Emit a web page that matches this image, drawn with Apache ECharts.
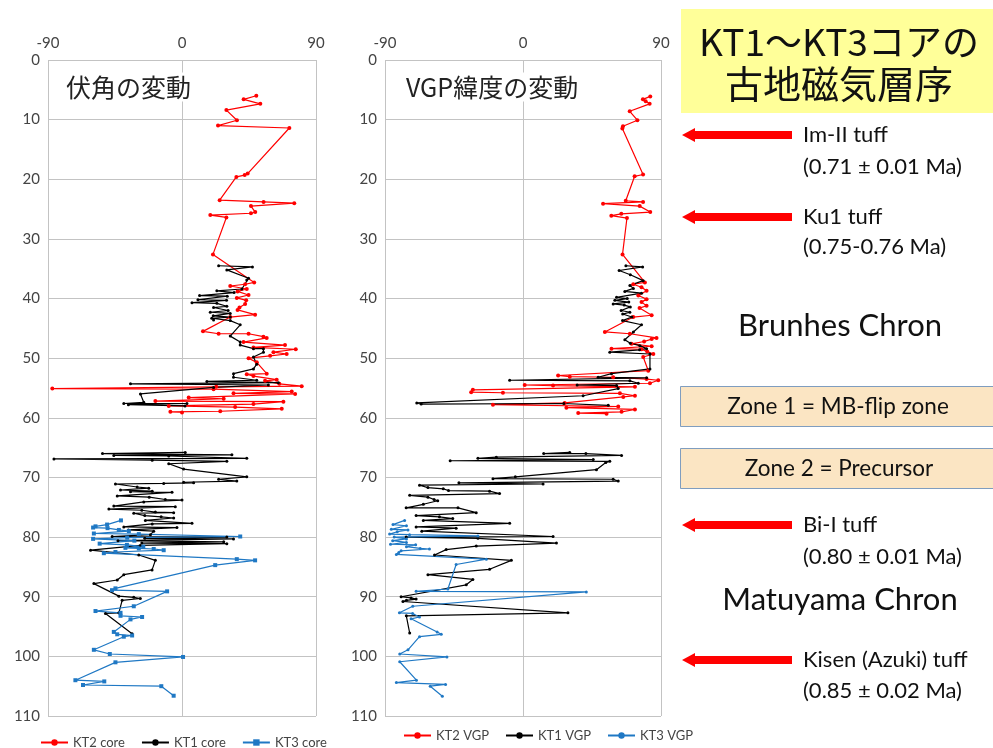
<!DOCTYPE html>
<html>
<head>
<meta charset="utf-8">
<script src="https://cdn.jsdelivr.net/npm/echarts@6/dist/echarts.min.js"></script>
<style>
html,body{margin:0;padding:0;background:#fff;}
#chart{width:993px;height:748px;}
</style>
</head>
<body>
<div id="chart"></div>
<script>
// ---- data: [value (deg), depth (m)] ----
const xTicks = [-90, 0, 90];
const depthTicks = [0, 10, 20, 30, 40, 50, 60, 70, 80, 90, 100, 110];

const kt2Core = [[49.9,6.0],[41.4,6.6],[52.6,7.35],[29.8,8.4],[36.9,10.1],[24.2,11.0],[72.1,11.4],[44.1,19.05],[42.1,19.3],[36.5,19.6],[25.3,23.5],[54.8,23.8],[75.4,24.0],[46.3,24.5],[49.2,25.5],[46.3,25.7],[19.0,26.0],[29.8,26.4],[20.8,32.6],
[48.5,37.3],[42.4,37.6],[32.4,37.9],[43.5,38.4],[37.3,38.8],[44.7,39.4],[36.8,39.9],[43.1,40.3],[42.4,40.9],[38.6,41.5],[37.3,41.9],[49.1,42.7],[32.4,43.1],[14.1,45.5],[24.6,45.9],[44.7,45.9],[54.7,46.4],[56.9,46.6],[41.3,47.3],[69.2,47.8],[48.0,48.2],[76.4,48.5],[61.4,49.0],[70.3,49.3],[59.2,49.6],[44.7,50.0],[50.2,50.7],[56.9,52.6],[43.5,52.7],[48.0,53.0],[63.6,53.6],[55.8,53.8],[65.4,54.3],[80.4,54.7],[23.0,54.8],[-87.1,55.1],[21.2,55.2],[73.7,55.6],[34.6,55.9],[76.0,56.0],[4.5,56.6],[28.0,56.8],[-17.9,57.2],[68.1,57.3],[48.0,57.7],[-8.9,58.0],[35.7,58.2],[67.0,58.5],[25.7,58.9],[-7.8,59.0],[0.0,59.1]];

const kt1CoreUpper = [[24.6,34.5],[47.3,34.7],[30.1,35.2],[44.7,36.6],[43.5,36.9],[40.2,38.4],[23.4,38.7],[35.0,39.0],[11.8,39.5],[30.4,39.6],[10.7,40.2],[29.9,40.3],[6.7,40.7],[23.4,40.8],[30.1,41.3],[21.2,41.5],[31.0,42.0],[19.0,42.3],[32.4,42.5],[21.0,42.9],[32.4,43.1],[20.0,43.3],[21.2,43.6],[32.4,43.7],[39.1,44.4],[32.4,46.3],[39.1,47.3],[39.1,47.8],[48.0,48.4],[54.7,48.4],[54.7,49.0],[48.0,49.8],[50.2,51.0],[48.0,51.8],[34.6,52.6],[34.6,53.2],[50.2,53.7],[16.7,53.9],[64.7,54.1],[-34.6,54.3],[58.0,54.5],[21.2,54.9],[-27.9,56.0],[-25.7,57.4],[-39.1,57.6],[3.3,57.6],[-36.0,57.8],[2.0,58.0]];
const kt1CoreLower = [[2.2,65.8],[-53.4,66.0],[33.5,66.2],[-45.8,66.3],[-8.9,66.4],[43.5,66.8],[-86.0,66.9],[-20.0,67.1],[30.1,67.3],[-8.9,67.7],[1.1,68.6],[43.5,69.9],[24.6,70.3],[36.8,70.6],[1.1,70.8],[7.8,70.9],[-12.3,71.0],[-44.7,71.1],[-30.1,71.6],[-22.3,71.8],[-41.3,72.1],[-20.0,72.3],[-34.6,72.4],[-6.7,72.5],[-43.5,73.1],[-22.0,73.3],[-11.2,73.7],[0.0,73.8],[-25.7,74.1],[-45.8,74.8],[-4.5,74.9],[-49.1,75.3],[-27.0,75.5],[-17.9,75.8],[-5.6,75.9],[-32.4,76.0],[-25.0,76.4],[-14.0,76.6],[-5.6,76.8],[-24.6,77.2],[6.7,77.7],[-20.0,77.8],[-39.1,78.3],[-3.4,78.4],[-36.0,78.8],[-19.0,79.0],[-21.2,79.6],[-46.9,79.9],[30.1,80.0],[-25.0,80.2],[34.6,80.3],[-43.0,80.6],[28.0,80.8],[-27.0,81.0],[30.1,81.1],[-28.0,81.4],[-61.4,82.2],[-29.0,83.0],[-17.9,83.9],[-20.1,85.5],[-39.1,86.3],[-43.5,87.2],[-59.2,87.8],[-42.4,89.9],[-32.4,90.1],[-28.0,90.3],[-40.2,90.6],[-42.4,92.7],[-51.4,92.8],[-33.5,96.2]];

const kt3Core = [[-41.0,77.2],[-50.3,77.9],[-58.1,78.2],[-59.7,78.4],[-50.0,78.5],[-42.4,78.8],[-35.7,79.0],[-59.2,79.4],[-29.0,79.5],[39.1,79.9],[-36.8,80.1],[-59.7,80.3],[-32.0,80.6],[-55.3,81.1],[-37.0,81.3],[-26.0,81.6],[-38.0,81.8],[-29.0,81.9],[-19.0,82.0],[-12.3,82.2],[-44.7,82.5],[-52.5,82.7],[36.8,83.7],[49.1,83.9],[22.3,84.7],[-44.7,88.6],[-47.0,88.9],[-10.0,89.1],[-32.4,91.6],[-58.1,92.4],[-41.3,92.7],[-41.3,93.2],[-26.8,93.4],[-34.6,93.8],[-45.8,95.9],[-43.5,96.3],[-33.5,96.5],[-39.1,96.7],[-59.2,98.9],[-48.5,99.6],[0.7,100.1],[-44.7,101.0],[-71.6,104.0],[-52.2,104.2],[-66.5,104.8],[-13.9,105.0],[-5.6,106.6]];

const kt2Vgp = [[83.0,6.1],[78.2,6.6],[80.0,6.9],[82.6,7.35],[69.6,8.6],[74.6,10.1],[65.2,11.1],[64.8,11.5],[78.3,19.2],[72.8,19.5],[67.0,23.6],[78.3,23.8],[52.2,24.1],[76.1,24.5],[83.0,25.5],[64.1,25.8],[57.6,26.1],[67.8,26.5],[64.9,32.6],
[79.5,37.3],[71.9,37.6],[77.3,38.1],[80.6,38.7],[75.2,39.5],[80.6,40.1],[77.3,40.6],[80.6,41.2],[76.0,41.6],[83.9,42.8],[71.9,43.1],[53.4,45.6],[69.7,45.9],[87.1,46.6],[83.9,46.8],[79.0,47.2],[70.8,47.6],[83.9,48.0],[57.7,48.4],[77.3,48.5],[81.0,48.9],[85.0,49.3],[78.4,49.8],[81.7,52.1],[22.9,52.9],[30.5,53.1],[58.8,53.2],[80.6,53.5],[88.2,53.7],[82.8,54.2],[1.1,54.5],[19.6,54.6],[73.0,54.8],[-32.7,55.3],[-33.8,55.7],[-13.1,55.8],[63.2,55.9],[73.0,56.3],[65.4,56.5],[27.2,57.5],[-19.6,57.8],[62.1,58.1],[28.3,58.3],[73.0,58.6],[64.3,59.0],[36.0,59.2],[54.5,59.3]];

const kt1VgpUpper = [[67.1,34.5],[78.0,34.7],[62.7,35.3],[70.0,36.0],[78.4,37.0],[69.7,37.8],[72.0,38.3],[66.4,38.8],[77.3,39.1],[61.0,39.8],[68.0,40.0],[59.9,40.3],[69.0,40.6],[58.8,40.9],[66.0,41.1],[70.0,41.4],[64.0,42.0],[69.7,42.3],[65.0,42.6],[71.0,43.1],[64.9,43.7],[77.3,44.4],[72.0,45.6],[66.4,46.9],[70.0,47.5],[76.2,47.9],[80.6,48.4],[76.0,48.6],[56.6,49.0],[82.8,49.3],[82.8,51.8],[57.7,52.6],[49.0,53.2],[80.6,53.3],[-8.7,53.7],[69.7,53.8],[75.2,54.2],[35.3,54.5],[61.0,54.6],[62.1,55.1],[39.2,56.3],[-69.3,57.5],[-66.4,57.7],[26.6,57.6],[55.6,57.9]];
const kt1VgpLower = [[30.5,65.8],[13.5,66.0],[41.0,66.0],[64.3,66.3],[-17.4,66.6],[-29.4,66.8],[45.8,67.0],[-47.5,67.2],[56.6,67.3],[54.0,67.5],[47.9,68.7],[-5.0,69.9],[-19.6,70.2],[58.8,70.3],[62.1,70.6],[-41.8,70.9],[13.1,71.1],[-67.5,71.3],[-62.0,71.7],[-52.0,71.9],[-48.6,72.2],[-21.8,72.3],[-15.3,72.7],[-73.9,73.0],[-62.0,73.3],[-58.0,73.7],[-55.6,73.9],[-65.0,74.5],[-76.2,75.1],[-42.4,75.1],[-30.5,75.9],[-69.7,76.4],[-54.5,76.6],[-45.8,76.9],[-65.0,77.2],[-8.7,77.7],[-69.7,78.3],[-43.6,78.5],[-66.0,79.0],[19.6,79.9],[-76.2,80.0],[-29.4,80.2],[21.8,81.0],[-30.5,81.5],[-50.1,82.1],[-57.7,83.0],[-7.6,83.9],[-21.8,85.4],[-62.0,86.3],[-32.7,87.1],[-37.0,88.0],[-79.5,90.0],[-73.0,90.2],[-69.7,90.4],[-76.0,90.6],[-78.3,90.8],[29.3,92.7],[-76.1,93.2],[-73.9,96.1]];

const kt3Vgp = [[-77.2,77.2],[-84.8,77.9],[-76.0,78.1],[-85.9,78.7],[-75.0,78.8],[-82.0,79.1],[-87.0,79.5],[-74.0,79.6],[-29.4,79.8],[-84.0,80.0],[-76.0,80.3],[-85.0,80.6],[-76.0,80.9],[-86.4,81.2],[-70.0,81.3],[-76.0,81.6],[-67.0,81.9],[-61.0,82.0],[-79.5,82.3],[-81.0,82.6],[-82.6,82.9],[-23.9,83.7],[-43.6,84.6],[-49.0,88.7],[-69.7,89.1],[41.3,89.2],[-71.9,91.6],[-80.6,92.7],[-72.0,92.8],[-67.5,93.4],[-73.0,93.7],[-56.0,95.9],[-53.3,96.3],[-67.5,96.7],[-75.0,98.9],[-80.4,99.6],[-49.6,100.1],[-80.4,100.9],[-69.5,104.0],[-82.6,104.4],[-50.5,104.7],[-60.5,105.0],[-52.6,106.7]];

const leftNames = ['KT2 core', 'KT1 core', 'KT3 core'];
const rightNames = ['KT2 VGP', 'KT1 VGP', 'KT3 VGP'];
const panelTitles = ['伏角の変動', 'VGP緯度の変動'];

// ---- styling ----
const RED = '#ff0000', BLACK = '#000000', BLUE = '#1f78c4';
const GRID = '#c3c3c3', LABEL = '#444444';
const LAT = 'Lato, "Noto Sans", "Noto Sans CJK JP", sans-serif';
const JP = '"Noto Sans CJK JP", sans-serif';

function xAx(gi) {
  return {
    type: 'value', gridIndex: gi, position: 'top',
    min: xTicks[0], max: xTicks[xTicks.length - 1], interval: 90,
    axisLine: {show: false}, axisTick: {show: false},
    axisLabel: {color: LABEL, fontSize: 15, fontFamily: LAT, margin: 9},
    splitLine: {show: true, lineStyle: {color: GRID, width: 1}}
  };
}
function yAx(gi) {
  return {
    type: 'value', gridIndex: gi, inverse: true,
    min: depthTicks[0], max: depthTicks[depthTicks.length - 1], interval: 10,
    axisLine: {show: false},
    axisTick: {show: true, length: 5, lineStyle: {color: GRID}},
    axisLabel: {color: LABEL, fontSize: 15, fontFamily: LAT, margin: 8},
    splitLine: {show: true, lineStyle: {color: GRID, width: 1}}
  };
}
function ser(name, data, gi, color, symbol, size) {
  return {
    name, type: 'line', xAxisIndex: gi, yAxisIndex: gi, data,
    color, symbol, symbolSize: size, showSymbol: true, connectNulls: false,
    lineStyle: {color, width: 1.2}, itemStyle: {color},
    z: 3, silent: true, animation: false
  };
}

const arrowYs = [135, 217, 525, 660];
const arrowGraphics = arrowYs.map(y => ({
  type: 'polygon',
  shape: {points: [[682, y], [695, y - 7], [695, y - 4], [792, y - 4], [792, y + 4], [695, y + 4], [695, y + 7]]},
  style: {fill: '#ff0000'}
}));
function txt(x, y, text, size, align, family) {
  return {type: 'text', x, y, style: {text, fontSize: size, fontFamily: family || LAT, fill: '#111', align: align || 'left', verticalAlign: 'middle'}};
}

const option = {
  animation: false,
  backgroundColor: '#fff',
  grid: [
    {left: 48, top: 60, width: 268, height: 656},
    {left: 385, top: 60, width: 276, height: 656}
  ],
  xAxis: [xAx(0), xAx(1)],
  yAxis: [yAx(0), yAx(1)],
  legend: [
    {data: leftNames, left: 35, top: 731, itemWidth: 27, itemHeight: 8, itemGap: 16,
     textStyle: {color: LABEL, fontSize: 13, fontFamily: LAT}},
    {data: rightNames, left: 398, top: 724, itemWidth: 27, itemHeight: 8, itemGap: 16,
     textStyle: {color: LABEL, fontSize: 13, fontFamily: LAT}}
  ],
  series: [
    ser(leftNames[0], kt2Core, 0, RED, 'circle', 4),
    ser(leftNames[1], kt1CoreUpper.concat([null], kt1CoreLower), 0, BLACK, 'circle', 3),
    ser(leftNames[2], kt3Core, 0, BLUE, 'rect', 4),
    ser(rightNames[0], kt2Vgp, 1, RED, 'circle', 4),
    ser(rightNames[1], kt1VgpUpper.concat([null], kt1VgpLower), 1, BLACK, 'circle', 3),
    ser(rightNames[2], kt3Vgp, 1, BLUE, 'circle', 3)
  ],
  graphic: [
    {type: 'text', x: 63, y: 87, z: 10, style: {text: panelTitles[0], fontSize: 25, fontFamily: JP, fill: '#222', verticalAlign: 'middle', backgroundColor: '#fff', padding: [2, 3]}},
    {type: 'text', x: 403, y: 87, z: 10, style: {text: panelTitles[1], fontSize: 25, fontFamily: JP, fill: '#222', verticalAlign: 'middle', backgroundColor: '#fff', padding: [2, 3]}},
    {type: 'rect', shape: {x: 681, y: 9, width: 320, height: 104}, style: {fill: '#ffff99'}},
    txt(839, 42, 'KT1～KT3コアの', 37, 'center', JP),
    txt(839, 84, '古地磁気層序', 38, 'center', JP),
    ...arrowGraphics,
    txt(803, 135, 'Im-II tuff', 22),
    txt(803, 167, '(0.71 ± 0.01 Ma)', 22),
    txt(803, 217, 'Ku1 tuff', 22),
    txt(803, 247, '(0.75-0.76 Ma)', 22),
    txt(840, 326, 'Brunhes Chron', 31, 'center'),
    {type: 'rect', shape: {x: 680.5, y: 386.5, width: 330, height: 40}, style: {fill: '#fbe5c3', stroke: '#7f9dbf', lineWidth: 1}},
    txt(838, 407, 'Zone 1 = MB-flip zone', 22.5, 'center'),
    {type: 'rect', shape: {x: 680.5, y: 448.5, width: 330, height: 40}, style: {fill: '#fbe5c3', stroke: '#7f9dbf', lineWidth: 1}},
    txt(839, 469, 'Zone 2 = Precursor', 22.5, 'center'),
    txt(803, 525, 'Bi-I tuff', 22),
    txt(803, 557, '(0.80 ± 0.01 Ma)', 22),
    txt(840, 600, 'Matuyama Chron', 31, 'center'),
    txt(803, 660, 'Kisen (Azuki) tuff', 22),
    txt(803, 691, '(0.85 ± 0.02 Ma)', 22)
  ]
};

const chart = echarts.init(document.getElementById('chart'), null, {renderer: 'canvas'});
chart.setOption(option);
</script>
</body>
</html>
